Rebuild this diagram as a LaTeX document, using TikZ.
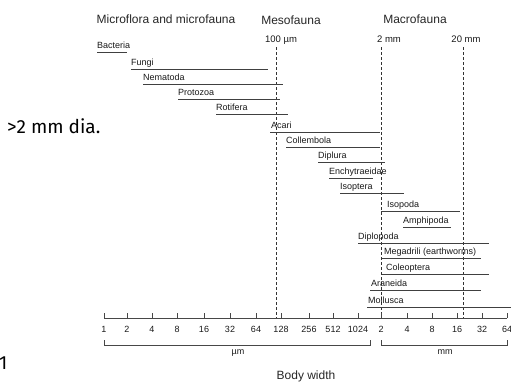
\documentclass[tikz,border=0pt]{standalone}
\usepackage{fontspec}
\setmainfont{Liberation Sans}
\newfontfamily\handfont{Fira Sans}
\begin{document}
\begin{tikzpicture}[x=1pt,y=-1pt,
  hdr/.style={font=\fontsize{12}{14}\selectfont, text=black!85, inner sep=0pt},
  thr/.style={font=\fontsize{9.5}{11}\selectfont, text=black!90, inner sep=0pt},
  lbl/.style={font=\fontsize{9}{10}\selectfont, text=black!90, anchor=base west, inner sep=0pt},
  num/.style={font=\fontsize{9}{10}\selectfont, text=black!90, inner sep=0pt},
  hand/.style={font=\handfont\fontsize{19}{21}\selectfont, text=black, inner sep=0pt, anchor=west},
  barline/.style={line width=0.8pt, draw=black!75},
  dashline/.style={line width=0.8pt, dash pattern=on 3pt off 2pt, draw=black!80},
  axisline/.style={line width=0.7pt, draw=black!72}]
\useasboundingbox (0,0) rectangle (511,383);

% headers
\node[hdr] (hmicro) at (166,19) {Microflora and microfauna};
\node[hdr] (hmeso) at (291,20) {Mesofauna};
\node[hdr] (hmacro) at (415,19) {Macrofauna};

% thresholds
\node[thr] (t100) at (281,40) {100 µm};
\node[thr] (t2) at (389,39) {2 mm};
\node[thr] (t20) at (466,39) {20 mm};

\coordinate (d1t) at (276,47); \coordinate (d1b) at (276,318);
\coordinate (d2t) at (381,47); \coordinate (d2b) at (381,318);
\coordinate (d3t) at (463,47); \coordinate (d3b) at (463,318);
\draw[dashline] (d1t) -- (d1b);
\draw[dashline] (d2t) -- (d2b);
\draw[dashline] (d3t) -- (d3b);

% bars
\foreach \n/\t/\xl/\xa/\xb/\y in {
  bac/Bacteria/97/97/127/52,
  fun/Fungi/131/131/268/69,
  nem/Nematoda/143/143/283/84,
  pro/Protozoa/178/178/280/99,
  rot/Rotifera/216/216/288/114,
  aca/Acari/271/270/380/132,
  col/Collembola/286/286/380/147,
  dipl/Diplura/318/318/385/162,
  enc/Enchytraeidae/329/329/373/178,
  isopt/Isoptera/340/340/404/193,
  isopo/Isopoda/387/381/460/211,
  amp/Amphipoda/403/403/451/227,
  diplo/Diplopoda/358/358/489/243,
  meg/{Megadrili (earthworms)}/384/382/481/258,
  cole/Coleoptera/386/382/489/274,
  ara/Araneida/371/370/481/290,
  mol/Mollusca/368/367/511/307}{
  \coordinate (\n-a) at (\xa,\y);
  \coordinate (\n-b) at (\xb,\y);
  \node[lbl] (\n) at (\xl,\y-3.8) {\t};
  \draw[barline] (\n-a) -- (\n-b);
}

% axis
\coordinate (axl) at (104,318); \coordinate (axr) at (507,318);
\draw[axisline] (axl) -- (axr);
\foreach \i/\x/\t in {0/104/1,1/127/2,2/152/4,3/177/8,4/204/16,5/230/32,6/256/64,7/281/128,
  8/309/256,9/333/512,10/358/1024,11/381/2,12/407/4,13/432/8,14/457/16,15/482/32,16/507/64}{
  \coordinate (tk\i) at (\x,318);
  \coordinate (tt\i) at (\x,313);
  \draw[axisline] (tk\i) -- (tt\i);
  \node[num] (n\i) at (\x,329) {\t};
}

% brackets
\coordinate (ba1) at (104,340); \coordinate (ba2) at (104,345);
\coordinate (ba3) at (370,345); \coordinate (ba4) at (370,340);
\draw[axisline] (ba1) -- (ba2) -- (ba3) -- (ba4);
\coordinate (bb1) at (381,340); \coordinate (bb2) at (381,345);
\coordinate (bb3) at (507,345); \coordinate (bb4) at (507,340);
\draw[axisline] (bb1) -- (bb2) -- (bb3) -- (bb4);
\node[num] (um) at (238,353) {µm};
\node[num] (mm) at (445,352) {mm};
\node[hdr] (bw) at (306,376) {Body width};

% side notes
\node[hand] (dia) at (7,126) {>2 mm dia.};
\node[hand] (one) at (-1,363) {1};
\end{tikzpicture}
\end{document}
